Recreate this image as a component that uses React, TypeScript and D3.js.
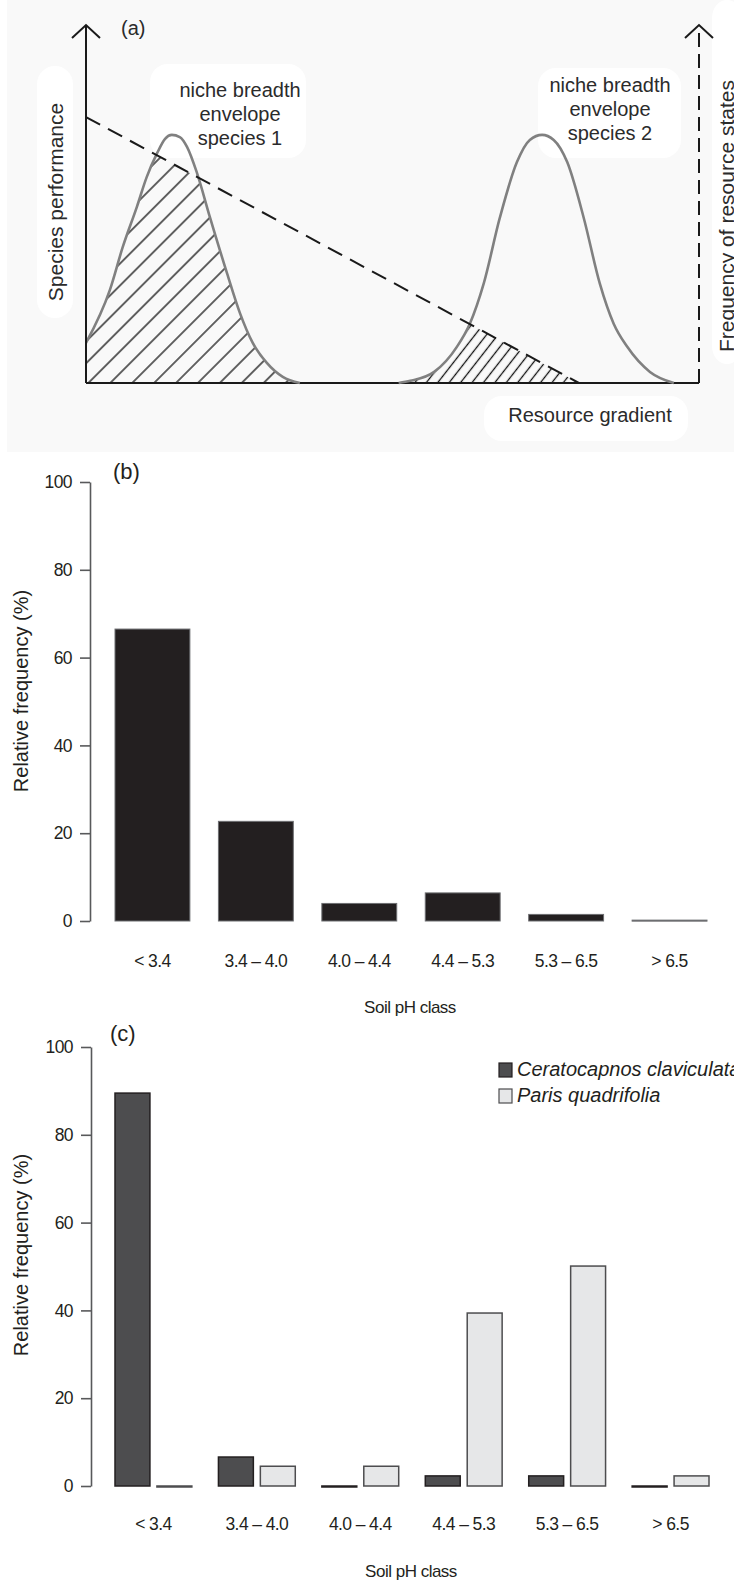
import React, { useEffect, useRef } from "react";
import * as d3 from "d3";

const W = 734;
const H = 1585;

// ---------- Data ----------
const categories = ["< 3.4", "3.4 – 4.0", "4.0 – 4.4", "4.4 – 5.3", "5.3 – 6.5", "> 6.5"];
const allSpeciesFreq = [66.5, 22.7, 4.0, 6.4, 1.5, 0.2];
const ceratocapnosFreq = [89.5, 6.6, 0, 2.3, 2.3, 0];
const parisFreq = [0, 4.5, 4.5, 39.4, 50.1, 2.3];
const seriesNames = ["Ceratocapnos claviculata", "Paris quadrifolia"];
const yTicks = [0, 20, 40, 60, 80, 100];

// panel (a): conceptual curves, gradient units (0-100) vs performance units (0-100)
const species1X = [0, 3.9, 6.0, 8.3, 9.9, 11.6, 12.9, 14.0, 15.3, 16.5, 18.1, 20.2, 23.0, 25.1, 27.2, 29.5, 32.1, 34.9];
const species1Y = [11.2, 26.0, 38.0, 49.2, 57.5, 64.2, 68.2, 69.3, 68.7, 65.9, 58.7, 46.4, 30.7, 19.6, 11.2, 5.6, 1.7, 0];
const species2X = [51.0, 52.9, 56.8, 60.5, 62.6, 64.9, 67.5, 70.3, 72.4, 74.4, 76.3, 78.5, 81.2, 83.8, 86.1, 88.3, 92.0, 95.9];
const species2Y = [0, 0.6, 3.1, 10.1, 16.5, 27.9, 46.1, 61.7, 67.9, 69.3, 67.9, 61.7, 46.1, 27.9, 16.5, 10.1, 3.1, 0];
const resourceX = [0, 80.4];
const resourceY = [74.3, 0];

const SANS = "'Liberation Sans', Arial, sans-serif";

export default function App() {
  const ref = useRef<SVGSVGElement | null>(null);

  useEffect(() => {
    const svg = d3.select(ref.current);
    svg.selectAll("*").remove();

    // ---------- Panel (a) ----------
    const a = svg.append("g");
    a.append("rect").attr("x", 7).attr("y", 0).attr("width", W - 7).attr("height", 452).attr("fill", "#f9f9f9");
    const blobs = [
      [37, 66, 36, 252],
      [150, 64, 156, 94],
      [538, 68, 143, 90],
      [484, 396, 204, 45],
      [712, 0, 30, 364],
    ];
    blobs.forEach(([x, y, w, h]) =>
      a.append("rect").attr("x", x).attr("y", y).attr("width", w).attr("height", h)
        .attr("rx", 18).attr("fill", "#ffffff"));

    const xA = d3.scaleLinear().domain([0, 100]).range([86, 699]);
    const yA = d3.scaleLinear().domain([0, 100]).range([383, 25]);

    const defs = svg.append("defs");
    const mkHatch = (id: string, w: number, rot: number) => {
      const p = defs.append("pattern").attr("id", id).attr("patternUnits", "userSpaceOnUse")
        .attr("width", w).attr("height", w).attr("patternTransform", `rotate(${rot})`);
      p.append("line").attr("x1", w / 2).attr("x2", w / 2).attr("y1", -1).attr("y2", w + 1)
        .attr("stroke", "#111").attr("stroke-width", 1.3);
    };
    mkHatch("hatch1", 15.5, 45);
    mkHatch("hatch2", 9, 38);

    const tri = `M${xA(0)},${yA(0)} L${xA(resourceX[0])},${yA(resourceY[0])} L${xA(resourceX[1])},${yA(resourceY[1])} Z`;
    defs.append("clipPath").attr("id", "triClip").append("path").attr("d", tri);

    const s1 = species1X.map((x, i) => [x, species1Y[i]] as [number, number]);
    const s2 = species2X.map((x, i) => [x, species2Y[i]] as [number, number]);
    const area = d3.area<[number, number]>().x(d => xA(d[0])).y0(yA(0)).y1(d => yA(d[1])).curve(d3.curveMonotoneX);
    const line = d3.line<[number, number]>().x(d => xA(d[0])).y(d => yA(d[1])).curve(d3.curveMonotoneX);

    const hg = a.append("g").attr("clip-path", "url(#triClip)");
    hg.append("path").attr("d", area(s1)).attr("fill", "url(#hatch1)");
    hg.append("path").attr("d", area(s2)).attr("fill", "url(#hatch2)");

    // baseline
    a.append("line").attr("x1", xA(0)).attr("x2", xA(100)).attr("y1", yA(0)).attr("y2", yA(0))
      .attr("stroke", "#1a1a1a").attr("stroke-width", 2);

    [s1, s2].forEach(s => a.append("path").attr("d", line(s)).attr("fill", "none")
      .attr("stroke", "#808080").attr("stroke-width", 2.6));

    // resource line (dashed)
    a.append("line").attr("x1", xA(resourceX[0])).attr("y1", yA(resourceY[0]))
      .attr("x2", xA(resourceX[1])).attr("y2", yA(resourceY[1]))
      .attr("stroke", "#1a1a1a").attr("stroke-width", 2).attr("stroke-dasharray", "16,9");

    // axes
    a.append("line").attr("x1", xA(0)).attr("x2", xA(0)).attr("y1", yA(0)).attr("y2", yA(100))
      .attr("stroke", "#1a1a1a").attr("stroke-width", 2);
    a.append("line").attr("x1", xA(100)).attr("x2", xA(100)).attr("y1", yA(0)).attr("y2", yA(100) + 4)
      .attr("stroke", "#1a1a1a").attr("stroke-width", 2).attr("stroke-dasharray", "14,7");
    [xA(0), xA(100)].forEach(x => a.append("path")
      .attr("d", `M${x - 14},${yA(100) + 13} L${x},${yA(100)} L${x + 14},${yA(100) + 13}`)
      .attr("fill", "none").attr("stroke", "#1a1a1a").attr("stroke-width", 2));

    const ta = (x: number, y: number, s: string, size = 20, anchor = "middle") =>
      a.append("text").attr("x", x).attr("y", y).attr("text-anchor", anchor)
        .attr("font-family", SANS).attr("font-size", size).attr("fill", "#2b2b2b").text(s);
    ta(121, 35, "(a)", 20, "start");
    ta(240, 97, "niche breadth");
    ta(240, 121, "envelope");
    ta(240, 145, "species 1");
    ta(610, 92, "niche breadth");
    ta(610, 116, "envelope");
    ta(610, 140, "species 2");
    ta(590, 422, "Resource gradient");
    a.append("text").attr("transform", "translate(63,202) rotate(-90)").attr("text-anchor", "middle")
      .attr("font-family", SANS).attr("font-size", 21).attr("fill", "#2b2b2b").text("Species performance");
    a.append("text").attr("transform", "translate(734,352) rotate(-90)").attr("text-anchor", "start")
      .attr("font-family", SANS).attr("font-size", 21).attr("fill", "#2b2b2b").text("Frequency of resource states");

    // ---------- helper for bar panels ----------
    const drawAxis = (y: d3.ScaleLinear<number, number>, x0: number) => {
      const g = svg.append("g").attr("transform", `translate(${x0},0)`)
        .call(d3.axisLeft(y).tickValues(yTicks).tickSize(10).tickSizeOuter(0).tickPadding(8));
      g.select(".domain").attr("stroke", "#58595b").attr("stroke-width", 1.6);
      g.selectAll(".tick line").attr("stroke", "#58595b").attr("stroke-width", 1.6);
      g.selectAll(".tick text").attr("font-family", SANS).attr("font-size", 17.5)
        .attr("letter-spacing", -0.6).attr("fill", "#231f20");
    };
    const catLabels = (x: d3.ScaleBand<string>, y: number) => {
      categories.forEach(c => svg.append("text").attr("x", (x(c) ?? 0) + x.bandwidth() / 2).attr("y", y)
        .attr("text-anchor", "middle").attr("font-family", SANS).attr("font-size", 17.5)
        .attr("letter-spacing", -0.6).attr("fill", "#231f20").text(c));
    };
    const yLabel = (cx: number, cy: number) =>
      svg.append("text").attr("transform", `translate(${cx},${cy}) rotate(-90)`).attr("text-anchor", "middle")
        .attr("font-family", SANS).attr("font-size", 20).attr("fill", "#231f20").text("Relative frequency (%)");
    const txt = (x: number, y: number, s: string, size: number, anchor = "middle", ls = 0) =>
      svg.append("text").attr("x", x).attr("y", y).attr("text-anchor", anchor)
        .attr("font-family", SANS).attr("font-size", size).attr("letter-spacing", ls)
        .attr("fill", "#231f20").text(s);

    // ---------- Panel (b) ----------
    const yB = d3.scaleLinear().domain([0, 100]).range([921, 482]);
    const xB = d3.scaleBand<string>().domain(categories).range([115, 707]).paddingInner(0.276).paddingOuter(0);
    svg.append("g").selectAll("rect").data(allSpeciesFreq).join("rect")
      .attr("x", (_, i) => xB(categories[i]) ?? 0)
      .attr("y", d => yB(d))
      .attr("width", xB.bandwidth())
      .attr("height", d => Math.max(yB(0) - yB(d), 1))
      .attr("fill", "#231f20").attr("stroke", "#6d6e71").attr("stroke-width", 1);
    drawAxis(yB, 90);
    catLabels(xB, 967);
    txt(410, 1013, "Soil pH class", 17, "middle", -0.5);
    txt(113, 479, "(b)", 22, "start");
    yLabel(28, 691);

    // ---------- Panel (c) ----------
    const yC = d3.scaleLinear().domain([0, 100]).range([1486, 1047]);
    const xC = d3.scaleBand<string>().domain(categories).range([115, 709]).paddingInner(0.257).paddingOuter(0);
    const xS = d3.scaleBand<string>().domain(seriesNames).range([0, xC.bandwidth()]).paddingInner(0.167);
    const fills = ["#4d4d4f", "#e6e7e8"];
    const strokes = ["#231f20", "#4d4d4f"];
    [ceratocapnosFreq, parisFreq].forEach((vals, si) => {
      svg.append("g").selectAll("rect").data(vals).join("rect")
        .attr("x", (_, i) => (xC(categories[i]) ?? 0) + (xS(seriesNames[si]) ?? 0))
        .attr("y", d => yC(d))
        .attr("width", xS.bandwidth())
        .attr("height", d => Math.max(yC(0) - yC(d), 1))
        .attr("fill", fills[si]).attr("stroke", strokes[si]).attr("stroke-width", 1.5);
    });
    drawAxis(yC, 91);
    catLabels(xC, 1530);
    txt(411, 1577, "Soil pH class", 17, "middle", -0.5);
    txt(110, 1041, "(c)", 22, "start");
    yLabel(28, 1255);

    // legend
    seriesNames.forEach((s, i) => {
      const y = 1063 + i * 26;
      svg.append("rect").attr("x", 499).attr("y", y).attr("width", 13).attr("height", 14)
        .attr("fill", fills[i]).attr("stroke", strokes[i]).attr("stroke-width", 1.2);
      svg.append("text").attr("x", 517).attr("y", y + 13).attr("font-family", SANS).attr("font-size", 20)
        .attr("font-style", "italic").attr("fill", "#231f20").text(s);
    });
  }, []);

  return (
    <svg ref={ref} width={W} height={H} viewBox={`0 0 ${W} ${H}`}
      style={{ position: "absolute", left: 0, top: 0, background: "#ffffff", display: "block" }} />
  );
}
